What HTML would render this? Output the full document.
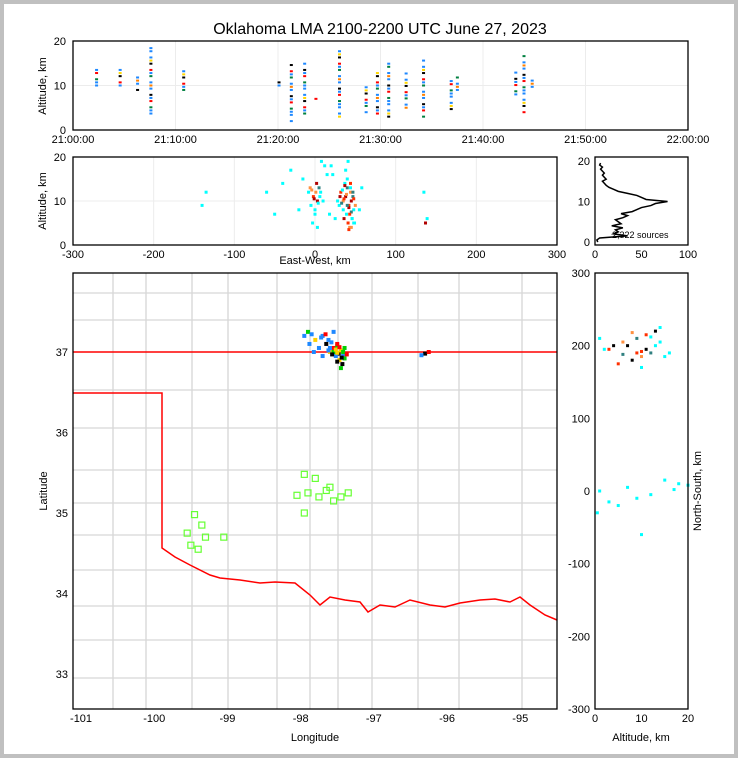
<!DOCTYPE html>
<html><head><meta charset="utf-8"><style>
body{margin:0;background:#c0c0c0;}
#wrap{position:absolute;left:4px;top:4px;width:730px;height:750px;background:#fff;}
svg{position:absolute;left:0;top:0;font-family:"Liberation Sans",sans-serif;}
</style></head><body>
<div id="wrap"></div>
<svg id="s" width="738" height="758"></svg>
<script>
// ---- data ----
const tlCols=[2.3,4.6,6.3,7.6,10.8,20.1,21.3,22.6,23.7,26.0,28.6,29.7,30.8,32.5,34.2,36.9,37.5,43.2,44.0,44.8];
const tlMin=[10,10,9,3,9,10,2,3,7,3,4,3,3,5,3,4,9,8,4,9];
const tlMax=[14,14,13,19,14,11,15,15,7.5,19,10,13,15,13,16,11,12,13,17,12];
const ewX=[-2,1,3,5,-5,0,2,6,-8,10,-20,-30,-15,15,20,30,32,35,38,40,42,44,45,47,48,50,36,39,41,43,46,49,37,40,44,47,42,45,48,38,41,135,137,139,-140,-135,-50,-40,-60,25,28,55,58,12,8,-3,3,18,22,33,36,39,42,45,48,34,37,40,43,46,31,35,44,-4,-1,4,7,-6,0];
const ewA=[11,12,10,13,9,8,14,11,12,10,8,17,15,16,18,9,12,10,11,13,9,12,10,11,8,9,6,7,5,4,6,5,14,15,13,12,3.5,4,5,17,19,12,5,6,9,12,7,14,12,6,10,8,13,18,19,5,4,7,16,9.5,10.5,11.5,8.5,7.5,10.5,12.5,13.5,9,7,6,11,8,14,12.5,10.5,9.5,12,13,7];
const ewC=[1,1,1,1,0,0,1,0,0,0,0,0,0,0,0,0,1,1,1,1,1,1,1,1,0,1,1,0,1,1,0,0,0,0,0,1,1,1,0,0,0,0,1,0,0,0,0,0,0,0,0,0,0,0,0,0,0,0,0,1,1,1,1,1,1,0,1,1,1,0,1,0,1,1,1,0,0,1,0];
const histAlt=[0,0.5,1,1.5,2,2.5,3,3.5,4,4.5,5,5.5,6,6.5,7,7.5,8,8.5,9,9.5,10,10.5,11,11.5,12,12.5,13,13.5,14,14.5,15,15.5,16,16.5,17,17.5,18,18.5,19,19.5];
const histCnt=[3,2,5,35,20,25,22,30,18,28,25,22,30,35,28,40,45,50,60,65,78,55,50,45,35,25,20,15,12,10,8,12,10,8,10,8,6,8,5,6];
const mapLon=[-97.95,-97.9,-97.85,-97.8,-97.75,-97.7,-97.65,-97.6,-97.55,-97.5,-97.48,-97.45,-97.42,-97.4,-97.43,-97.47,-97.52,-97.58,-97.62,-97.55,-97.5,-97.45,-97.88,-97.82,-97.7,-97.6,-96.3,-96.35,-96.25,-97.55,-97.5,-97.52,-97.47,-97.42,-97.57,-97.62,-97.37,-97.4,-97.44,-97.5,-97.66,-97.72];
const mapLat=[37.2,37.25,37.22,37.15,37.05,37.2,37.1,37.0,37.05,37.08,36.98,37.02,36.95,36.92,36.85,36.9,36.95,37.12,37.15,37.25,37.1,36.8,37.1,37.0,36.95,37.05,36.98,36.96,37.0,37.0,36.88,37.03,37.06,37.0,36.97,37.02,36.97,37.05,36.93,36.99,37.22,37.18];
const mapC=[0,1,0,1,0,0,1,1,1,1,1,1,0,1,1,1,0,0,0,0,1,1,0,0,0,0,1,0,1,1,1,1,1,1,1,0,1,1,1,1,1,0];
const boxLon=[-99.45,-99.35,-99.55,-99.4,-99.3,-99.05,-99.5,-97.95,-97.9,-97.8,-98.05,-97.75,-97.65,-97.55,-97.45,-97.35,-97.95,-97.6];
const boxLat=[34.98,34.85,34.75,34.55,34.7,34.7,34.6,35.48,35.25,35.43,35.22,35.2,35.28,35.15,35.2,35.25,35.0,35.32];
const nsY=[175,180,185,190,195,200,205,210,215,220,185,190,195,200,205,210,190,195,200,188,192,212,218,170,225,0,5,-10,-5,15,-20,10,-30,-60,-15,2,8];
const nsA=[5,8,10,12,2,4,6,9,11,13,15,16,3,7,14,1,9,11,13,6,10,12,8,10,14,1,7,9,12,15,5,18,0.5,10,3,17,20];
const nsC=[1,1,1,1,0,1,1,1,1,1,0,0,1,1,0,0,1,1,0,1,1,0,1,0,0,0,0,0,0,0,0,0,0,0,0,0,0];
const tickPal=['#1e88ff','#1e88ff','#008040','#1e88ff','#ff0000','#1e88ff','#000000','#ffd700','#1e88ff','#ff8000'];
// ---- scales ----
const tx=m=>73+m/60*615, ty=a=>130-a/20*89;
const ex=k=>315+k/300*242, ey=a=>245-a/20*88;
const hx=c=>595+c/100*93, hy=a=>242-a/20*81;
const mx=l=>73+(l+101.11)*73.2, my=l=>352-(l-37)*80.5;
const nx=a=>595+a/20*93, ny=k=>491-k/300*218;
const S=document.getElementById('s'),NS='http://www.w3.org/2000/svg';
function el(t,a,p){const e=document.createElementNS(NS,t);for(const k in a)e.setAttribute(k,a[k]);(p||S).appendChild(e);return e;}
function txt(x,y,s,o){const e=el('text',Object.assign({x:x,y:y,'font-size':11,'text-anchor':'middle',fill:'#000'},o||{}));e.textContent=s;return e;}
function frame(x,y,w,h,name){const r=el('rect',{x:x,y:y,width:w,height:h,fill:'none',stroke:'#000','stroke-width':1.3});}
function grid(x1,y1,x2,y2,c,w){el('line',{x1:x1,y1:y1,x2:x2,y2:y2,stroke:c||'#ececec','stroke-width':w||1});}
let t=txt(380,34,'Oklahoma LMA 2100-2200 UTC June 27, 2023',{'font-size':16});

// top panel
for(let m=0;m<=60;m+=10){grid(tx(m),41,tx(m),130);}
grid(73,ty(10),688,ty(10));
tlCols.forEach((m,i)=>{let j=0;for(let a=tlMin[i];a<=tlMax[i];a+=0.7,j++){if((i+j)%4===3)continue;const r=el('rect',{x:tx(m)-1.5,y:ty(a)-1,width:3,height:2,fill:tickPal[(i*3+j)%10]});}});
frame(73,41,615,89,'time-height-panel');
['21:00:00','21:10:00','21:20:00','21:30:00','21:40:00','21:50:00','22:00:00'].forEach((s,i)=>txt(tx(i*10),143,s));
[0,10,20].forEach(v=>txt(66,ty(v)+4,v,{'text-anchor':'end'}));
txt(46,86,'Altitude, km',{transform:'rotate(-90 46 86)'});
// middle panel
for(let k=-300;k<=300;k+=100)grid(ex(k),157,ex(k),245);
grid(73,ey(10),557,ey(10));
ewX.forEach((k,i)=>{const r=el('rect',{x:ex(k)-1.5,y:ey(ewA[i])-1.5,width:3,height:3,fill:ewC[i]?['#ff3000','#ff9040','#b00000','#308080'][i%4]:'#00ffff'});});
frame(73,157,484,88,'east-west-panel');
[-300,-200,-100,0,100,200,300].forEach(k=>txt(ex(k),258,k));
[0,10,20].forEach(v=>txt(66,ey(v)+4,v,{'text-anchor':'end'}));
txt(315,264,'East-West, km');
txt(46,201,'Altitude, km',{transform:'rotate(-90 46 201)'});
// histogram
const hp=histAlt.map((a,i)=>hx(histCnt[i])+','+hy(a)).join(' ');
const pl=el('polyline',{points:hp,fill:'none',stroke:'#000','stroke-width':1.5});
frame(595,157,93,88,'histogram-panel');
[0,50,100].forEach(v=>txt(hx(v),258,v));
[0,10,20].forEach(v=>txt(590,hy(v)+4,v,{'text-anchor':'end'}));
txt(612,238,'2,322 sources',{'font-size':9,'text-anchor':'start'});
// map county lines (decorative)
const vx=[113,146,192,228,277,310,338,372,418,459,522];
const hyL=[293,320,390,428,470,503,535,570,606,640,678];
vx.forEach(x=>grid(x,273,x,709,'#d6d6d6',1.3));hyL.forEach(y=>grid(73,y,557,y,'#d6d6d6',1.3));
const ok='73,393 162,393 162,548 175,557 190,565 210,575 220,578 240,580 260,583 275,582 295,583 310,595 320,605 330,597 345,600 360,602 368,612 380,605 395,607 410,600 430,605 445,607 460,603 480,600 495,599 510,602 520,597 530,605 545,615 557,620';
let b=el('polyline',{points:ok,fill:'none',stroke:'#ff0000','stroke-width':1.5});
b=el('line',{x1:73,y1:352,x2:557,y2:352,stroke:'#ff0000','stroke-width':1.5});
mapLon.forEach((l,i)=>{const r=el('rect',{x:mx(l)-2,y:my(mapLat[i])-2,width:4,height:4,fill:mapC[i]?['#ff0000','#00d000','#000','#ffd000'][i%4]:'#1e88ff'});});
boxLon.forEach((l,i)=>{const r=el('rect',{x:mx(l)-3,y:my(boxLat[i])-3,width:6,height:6,fill:'none',stroke:'#66ff33','stroke-width':1.2});});
frame(73,273,484,436,'map-panel');
[-101,-100,-99,-98,-97,-96,-95].forEach(l=>txt(mx(l),722,l));
[33,34,35,36,37].forEach(l=>txt(68,my(l)+4,l,{'text-anchor':'end'}));
txt(315,741,'Longitude');txt(47,491,'Latitude',{transform:'rotate(-90 47 491)'});
// right panel
nsY.forEach((k,i)=>{const r=el('rect',{x:nx(nsA[i])-1.5,y:ny(k)-1.5,width:3,height:3,fill:nsC[i]?['#ff3000','#000','#ff9040','#308080'][i%4]:'#00ffff'});});
frame(595,273,93,436,'north-south-panel');
[0,10,20].forEach(v=>txt(nx(v),722,v));
[300,200,100,0,-100,-200,-300].forEach(k=>txt(590,ny(k)+4,k,{'text-anchor':'end'}));
txt(641,741,'Altitude, km');txt(701,491,'North-South, km',{transform:'rotate(-90 701 491)'});
</script></body></html>
